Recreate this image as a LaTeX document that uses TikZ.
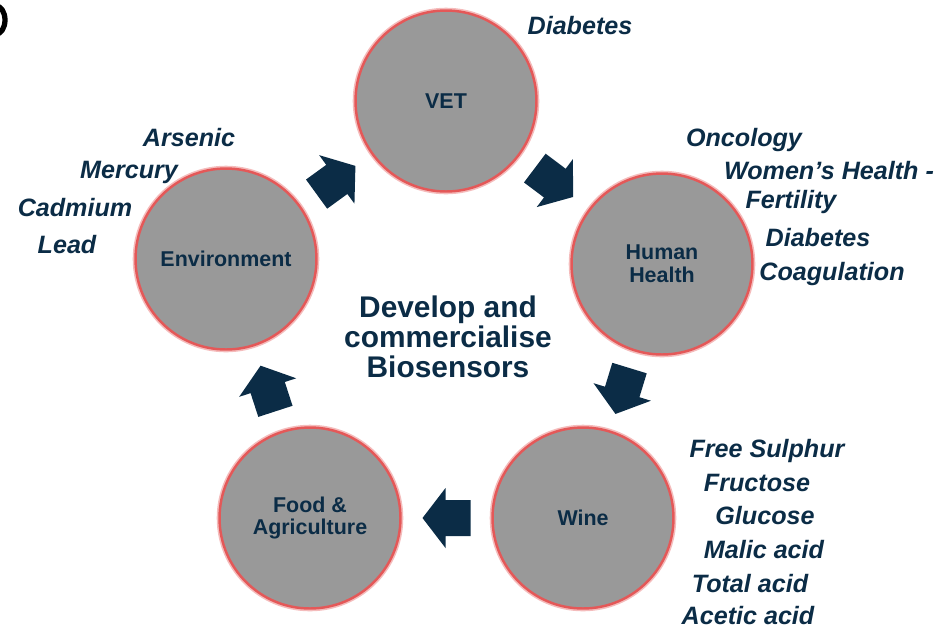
\documentclass[tikz,border=0pt]{standalone}
\usepackage{fontspec}
\setmainfont{Liberation Sans}
\usepackage{tikz}
\usetikzlibrary{calc}

\definecolor{navy}{HTML}{0B2C46}
\definecolor{circgray}{HTML}{999999}
\definecolor{ringred}{HTML}{E45858}

\tikzset{
	hub/.style={circle, fill=circgray, draw=ringred, line width=1.4pt,
		preaction={draw=ringred!40, line width=3.2pt},
		minimum size=3.62cm, inner sep=0pt, align=center, text=navy,
		font=\fontsize{12.2}{13}\selectfont\bfseries},
	lbl/.style={anchor=base, inner sep=0pt, text=navy,
		font=\fontsize{14.3}{16}\selectfont\bfseries\itshape},
	bigarrow/.pic={\fill[navy] (-24,-18) -- (1,-18) -- (1,-30) -- (24,0) -- (1,30) -- (1,18) -- (-24,18) -- cycle;}
}

\begin{document}
\begin{tikzpicture}[x=0.02cm, y=-0.02cm]
			\useasboundingbox (0,0) rectangle (943,627);
			% cut-off glyph in the corner
			\draw[line width=3pt] (-4,6) arc[start angle=-90, end angle=90, x radius=9, y radius=14];
			% the five fields
			\node[hub] (vet) at (446,101) {VET};
			\node[hub] (human) at (662,264) {Human\\Health};
			\node[hub] (wine) at (583,518) {Wine};
			\node[hub] (food) at (310,518) {Food \&\\Agriculture};
			\node[hub] (env) at (226,259) {Environment};
			\node[inner sep=0pt, align=center, text=navy, font=\fontsize{17}{17}\selectfont\bfseries] (core) at (448,337) {Develop and\\commercialise\\Biosensors};
			% arrows round the cycle
			\pic[rotate=36] at ($(env)!0.5!(vet)$) {bigarrow};
			\pic[rotate=-37] at ($(vet)!0.5!(human)$) {bigarrow};
			\pic[rotate=-107] at ($(human)!0.5!(wine)$) {bigarrow};
			\pic[rotate=180] at ($(wine)!0.5!(food)$) {bigarrow};
			\pic[rotate=108] at ($(food)!0.5!(env)$) {bigarrow};
			% VET
			\node[lbl] (vetdiab) at (580,34) {Diabetes};
			% Environment
			\node[lbl] (arsenic) at (189,146) {Arsenic};
			\node[lbl] (mercury) at (129,178) {Mercury};
			\node[lbl] (cadmium) at (75,216) {Cadmium};
			\node[lbl] (lead) at (67,253) {Lead};
			% Human Health
			\node[lbl] (oncology) at (744,146) {Oncology};
			\node[lbl] (women) at (829,179) {Women’s Health -};
			\node[lbl] (fertility) at (791,208) {Fertility};
			\node[lbl] (hhdiab) at (818,246) {Diabetes};
			\node[lbl] (coag) at (832,280) {Coagulation};
			% Wine
			\node[lbl] (sulphur) at (767,457) {Free Sulphur};
			\node[lbl] (fructose) at (757,491) {Fructose};
			\node[lbl] (glucose) at (765,524) {Glucose};
			\node[lbl] (malic) at (764,558) {Malic acid};
			\node[lbl] (total) at (750,592) {Total acid};
			\node[lbl] (acetic) at (748,624) {Acetic acid};
		\end{tikzpicture}
\end{document}
